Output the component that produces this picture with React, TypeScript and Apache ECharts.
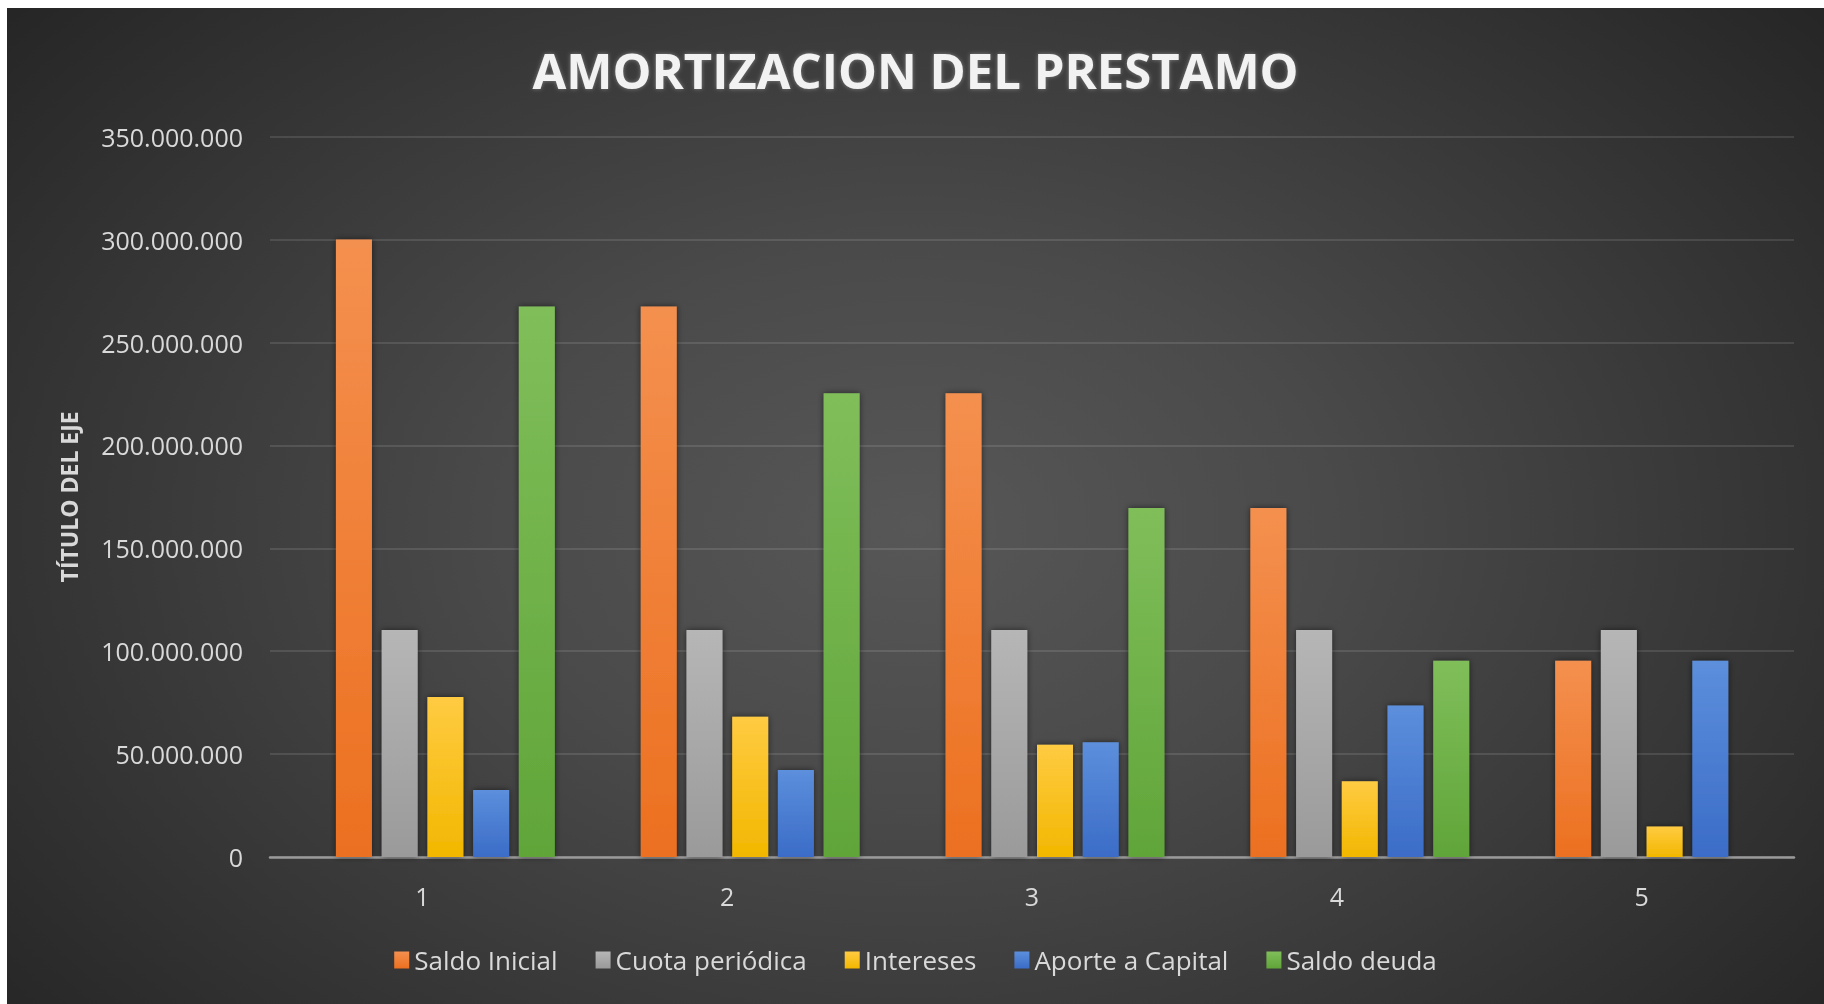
import React, { useEffect, useRef } from "react";
import * as echarts from "echarts";

const categories = ["1", "2", "3", "4", "5"];
const seriesNames = ["Saldo Inicial", "Cuota periódica", "Intereses", "Aporte a Capital", "Saldo deuda"];
const saldoInicial = [300000000, 267500000, 225300000, 169600000, 95400000];
const cuotaPeriodica = [110300000, 110300000, 110300000, 110300000, 110300000];
const intereses = [77800000, 68200000, 54600000, 36800000, 14800000];
const aporteCapital = [32500000, 42300000, 55800000, 73600000, 95400000];
const saldoDeuda = [267500000, 225300000, 169600000, 95400000, 0];
const yMin = 0;
const yMax = 350000000;
const yInterval = 50000000;

const seriesValues = [saldoInicial, cuotaPeriodica, intereses, aporteCapital, saldoDeuda];
const gradients: [string, string][] = [
  ["#F4904F", "#EC7020"],
  ["#B6B6B6", "#9A9A9A"],
  ["#FFCB42", "#F2B700"],
  ["#5C8FDC", "#3B6CC7"],
  ["#80BE5A", "#60A539"],
];

const fmt = (v: number) => String(v).replace(/\B(?=(\d{3})+(?!\d))/g, ".");

export default function App() {
  const ref = useRef<HTMLDivElement>(null);
  useEffect(() => {
    if (!ref.current) return;
    const chart = echarts.init(ref.current, undefined, { renderer: "svg" });
    const font = "'Open Sans', 'DejaVu Sans', sans-serif";
    const gridTop = 128.7;
    const gridBottom = 147;
    const gridLeft = 263;
    const gridRight = 30;
    const shift = 23;
    chart.setOption({
      animation: false,
      backgroundColor: "transparent",
      title: {
        text: "AMORTIZACION DEL PRESTAMO",
        left: "center",
        top: 32,
        textStyle: {
          color: "#f2f2f2",
          fontFamily: font,
          fontWeight: "bold",
          fontSize: 49,
          textShadowColor: "rgba(255,255,255,0.35)",
          textShadowBlur: 4,
        },
      },
      legend: {
        data: seriesNames,
        top: 934,
        left: "center",
        itemWidth: 15,
        itemHeight: 17,
        itemGap: 38,
        icon: "rect",
        textStyle: { color: "#d9d9d9", fontFamily: font, fontSize: 26 },
      },
      grid: [
        { left: gridLeft, right: gridRight, top: gridTop, bottom: gridBottom },
        { left: gridLeft + shift, right: gridRight - shift, top: gridTop, bottom: gridBottom },
      ],
      xAxis: [
        {
          type: "category",
          gridIndex: 0,
          data: categories,
          axisTick: { show: false },
          axisLine: { show: true, lineStyle: { color: "#9a9a9a", width: 2.5 } },
          axisLabel: { color: "#d9d9d9", fontFamily: font, fontSize: 25, margin: 26 },
        },
        { type: "category", gridIndex: 1, data: categories, show: false },
      ],
      yAxis: [
        {
          type: "value",
          gridIndex: 0,
          min: yMin,
          max: yMax,
          interval: yInterval,
          name: "TÍTULO DEL EJE",
          nameLocation: "middle",
          nameGap: 190,
          nameTextStyle: { color: "#d9d9d9", fontFamily: font, fontWeight: "bold", fontSize: 23 },
          axisLine: { show: false },
          axisTick: { show: false },
          axisLabel: { color: "#d9d9d9", fontFamily: font, fontSize: 25, margin: 27, formatter: fmt },
          splitLine: { lineStyle: { color: "rgba(255,255,255,0.11)", width: 2 } },
        },
        { type: "value", gridIndex: 1, min: yMin, max: yMax, interval: yInterval, show: false, splitLine: { show: false } },
      ],
      series: seriesNames.map((name, i) => ({
        name,
        type: "bar",
        xAxisIndex: 1,
        yAxisIndex: 1,
        data: seriesValues[i],
        barWidth: 36,
        barGap: "27%",
        itemStyle: {
          color: new echarts.graphic.LinearGradient(0, 0, 0, 1, [
            { offset: 0, color: gradients[i][0] },
            { offset: 1, color: gradients[i][1] },
          ]),
          shadowColor: "rgba(0,0,0,0.55)",
          shadowBlur: 6,
        },
      })),
    });
    return () => chart.dispose();
  }, []);
  return (
    <div
      ref={ref}
      style={{
        position: "fixed",
        left: 7,
        top: 8,
        width: 1817,
        height: 996,
        background: "radial-gradient(ellipse 65% 80% at 50% 52%, #575757 0%, #4a4a4a 35%, #262626 100%)",
      }}
    />
  );
}
